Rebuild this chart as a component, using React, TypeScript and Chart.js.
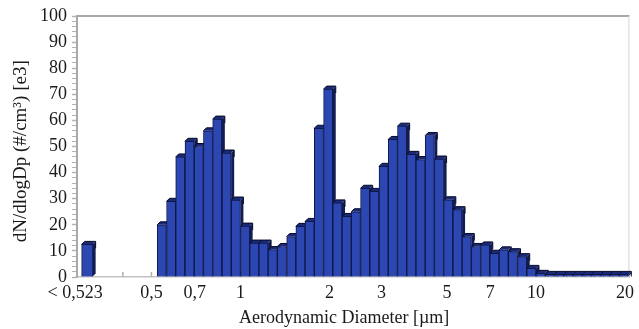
import React, { useEffect, useRef } from "react";
import { Chart, registerables } from "chart.js";

Chart.register(...registerables);

// APS channel mid-point diameters (µm)
const channelMids = [
  0.542, 0.583, 0.626, 0.673, 0.723, 0.777, 0.835, 0.898, 0.965, 1.037,
  1.114, 1.197, 1.286, 1.382, 1.486, 1.596, 1.715, 1.843, 1.981, 2.129,
  2.288, 2.458, 2.642, 2.839, 3.051, 3.278, 3.523, 3.786, 4.068, 4.371,
  4.698, 5.048, 5.425, 5.829, 6.264, 6.732, 7.234, 7.774, 8.354, 8.977,
  9.647, 10.37, 11.14, 11.97, 12.86, 13.82, 14.86, 15.96, 17.15, 18.43,
  19.81,
];

// dN/dlogDp (#/cm3) [e3]
const concentration = [
  20, 29, 46, 52, 50, 56, 60.5, 47.5, 29.5, 19.5,
  13, 13, 10.5, 11.7, 15.5, 19.4, 21.3, 57, 72, 28.4,
  23.2, 25, 34, 32.8, 42.4, 52.7, 57.8, 47, 45, 54.2,
  45.2, 29.6, 25.8, 15.5, 11.7, 12.3, 9.1, 10.4, 9.7, 7.8,
  3.3, 1.4, 1, 1, 1, 1, 1, 1, 1, 1,
  1,
];

// "< 0,523" underflow channel, shown separately at the left
const underflowPosition = [0.303];
const underflowValue = [12.5];

const xTickValues = [0.276, 0.4, 0.5, 0.7, 1, 2, 3, 5, 7, 10, 20];
const xTickLabels = ["< 0,523", "", "0,5", "0,7", "1", "2", "3", "5", "7", "10", "20"];

const X_MIN = 0.28;
const X_MAX = 20.7;

const FONT = "'Liberation Serif', 'DejaVu Serif', serif";

const frontColor = "#2d47b2";
const edgeColor = "#0f1746";
const topColor = "#1b2a78";
const sideColor = "#121c55";

const depthPlugin = {
  id: "depth3d",
  beforeDatasetsDraw(chart: any) {
    const ctx = chart.ctx;
    const area = chart.chartArea;
    // frame
    ctx.save();
    ctx.strokeStyle = "#a9a9a9";
    ctx.lineWidth = 2;
    ctx.beginPath();
    ctx.moveTo(area.left, area.top);
    ctx.lineTo(area.right, area.top);
    ctx.stroke();
    ctx.strokeStyle = "#d4d4d4";
    ctx.lineWidth = 1;
    ctx.beginPath();
    ctx.moveTo(area.right - 0.5, area.top);
    ctx.lineTo(area.right - 0.5, area.bottom);
    ctx.stroke();
    // small x tick marks pointing into the plot
    const xs = chart.scales.x;
    ctx.strokeStyle = "#b0b0b0";
    ctx.lineWidth = 1.5;
    xTickValues.forEach((v) => {
      const px = xs.getPixelForValue(v);
      if (px < area.left + 2) return;
      ctx.beginPath();
      ctx.moveTo(px, area.bottom);
      ctx.lineTo(px, area.bottom - 5);
      ctx.stroke();
    });
    ctx.restore();

    const d = 3;
    chart.data.datasets.forEach((_: any, i: number) => {
      const meta = chart.getDatasetMeta(i);
      meta.data.forEach((el: any) => {
        const { x, y, base, width } = el.getProps(["x", "y", "base", "width"], true);
        const l = x - width / 2;
        const r = x + width / 2;
        ctx.save();
        // side face
        ctx.beginPath();
        ctx.moveTo(r, y);
        ctx.lineTo(r + d, y - d);
        ctx.lineTo(r + d, base - d);
        ctx.lineTo(r, base);
        ctx.closePath();
        ctx.fillStyle = sideColor;
        ctx.fill();
        // top face
        ctx.beginPath();
        ctx.moveTo(l, y);
        ctx.lineTo(l + d, y - d);
        ctx.lineTo(r + d, y - d);
        ctx.lineTo(r, y);
        ctx.closePath();
        ctx.fillStyle = topColor;
        ctx.fill();
        ctx.strokeStyle = "#060a24";
        ctx.lineWidth = 1;
        ctx.beginPath();
        ctx.moveTo(l, y);
        ctx.lineTo(l + d, y - d);
        ctx.lineTo(r + d, y - d);
        ctx.lineTo(r + d, Math.min(base, y + 4));
        ctx.stroke();
        ctx.restore();
      });
    });
  },
};

export default function App() {
  const canvasRef = useRef<HTMLCanvasElement | null>(null);

  useEffect(() => {
    if (!canvasRef.current) return;
    const chart = new Chart(canvasRef.current, {
      type: "bar",
      data: {
        datasets: [
          {
            data: channelMids.map((x, i) => ({ x, y: concentration[i] })),
            backgroundColor: frontColor,
            borderColor: edgeColor,
            borderWidth: { top: 1, left: 1, right: 1, bottom: 0 },
            borderSkipped: false,
            barPercentage: 1,
            categoryPercentage: 1,
            grouped: false,
          },
          {
            data: underflowPosition.map((x, i) => ({ x, y: underflowValue[i] })),
            backgroundColor: frontColor,
            borderColor: edgeColor,
            borderWidth: { top: 1, left: 1, right: 1, bottom: 0 },
            borderSkipped: false,
            barThickness: 11,
            grouped: false,
          },
        ] as any,
      },
      options: {
        responsive: false,
        animation: false,
        layout: { padding: { left: 0, right: 2, top: 16, bottom: 0 } },
        plugins: {
          legend: { display: false },
          tooltip: { enabled: false },
        },
        scales: {
          x: {
            type: "logarithmic",
            min: X_MIN,
            max: X_MAX,
            offset: false,
            grid: { display: false, offset: false, drawTicks: false },
            border: { display: true, color: "#c2c2c2", width: 1.5 },
            afterBuildTicks: (axis: any) => {
              axis.ticks = xTickValues.map((v) => ({ value: v }));
            },
            afterFit: (axis: any) => {
              axis.height = 52;
            },
            ticks: {
              autoSkip: false,
              maxRotation: 0,
              minRotation: 0,
              padding: 5,
              color: "#1a1a1a",
              font: { family: FONT, size: 18 },
              callback: (_v: any, index: number) => xTickLabels[index],
            },
            title: {
              display: true,
              text: "Aerodynamic Diameter [µm]\u2003",
              color: "#1a1a1a",
              font: { family: FONT, size: 18 },
              padding: { top: 3, bottom: 0 },
            },
          },
          y: {
            min: 0,
            max: 100,
            grid: {
              drawOnChartArea: false,
              drawTicks: true,
              tickLength: 5,
              tickColor: "#b4b4b4",
              tickWidth: (c: any) => (c.tick && c.tick.value % 10 === 0 ? 1.5 : 1),
            },
            border: { display: true, color: "#a9a9a9", width: 2 },
            afterFit: (axis: any) => {
              axis.width = 77;
            },
            ticks: {
              stepSize: 2,
              autoSkip: false,
              padding: 5,
              color: "#1a1a1a",
              font: { family: FONT, size: 18 },
              callback: (v: any) => (Number(v) % 10 === 0 ? String(v) : ""),
            },
            title: {
              display: true,
              text: "dN/dlogDp (#/cm³) [e3]\u2002",
              color: "#1a1a1a",
              font: { family: FONT, size: 19 },
              padding: { top: 10, bottom: 0 },
            },
          },
        },
      } as any,
      plugins: [depthPlugin],
    });
    return () => chart.destroy();
  }, []);

  return (
    <div style={{ position: "fixed", left: 0, top: 0, width: 639, height: 329, background: "#fff" }}>
      <canvas ref={canvasRef} width={639} height={329} style={{ display: "block" }} />
    </div>
  );
}
